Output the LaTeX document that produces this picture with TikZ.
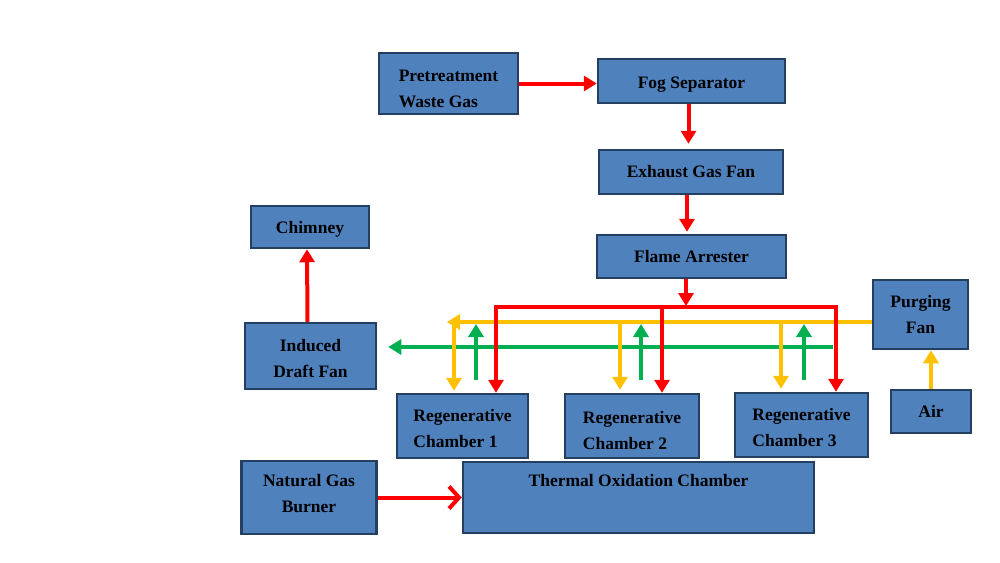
\documentclass[tikz,border=0pt]{standalone}
\usepackage{fontspec}
\setmainfont{Liberation Serif}
\usetikzlibrary{arrows.meta,calc}
\definecolor{boxfill}{HTML}{4F81BD}
\definecolor{boxline}{HTML}{243F60}
\definecolor{flowred}{HTML}{FF0000}
\definecolor{flowyel}{HTML}{FFC000}
\definecolor{flowgrn}{HTML}{00B050}
\tikzset{
  box/.style={draw=boxline, fill=boxfill, line width=2.5pt, inner sep=2pt,
    font=\fontsize{17.5}{26}\selectfont\bfseries, text=black},
  two/.style={text depth=3pt, text height=#1},
  redflow/.style={draw=flowred, line width=4pt},
  yelflow/.style={draw=flowyel, line width=4pt},
  grnflow/.style={draw=flowgrn, line width=4.5pt},
  tipr/.style={-{Triangle[length=13pt,width=15pt]}},
  barb/.style={-{Straight Barb[length=10pt,width=22pt]}},
}
\begin{document}
\begin{tikzpicture}[x=1pt,y=-1pt]
\useasboundingbox[fill=white] (0,0) rectangle (1000,562);

% boxes
\node[box, minimum width=139, minimum height=61, align=left, two=50pt] (pre) at (448.5,83.5) {Pretreatment\\Waste Gas};
\node[box, minimum width=187, minimum height=44, text height=18pt, text depth=4pt] (fog) at (691.5,81) {Fog Separator};
\node[box, minimum width=184, minimum height=44, text height=14pt, text depth=4pt] (exh) at (691,172) {Exhaust Gas Fan};
\node[box, minimum width=189, minimum height=43] (fla) at (691.5,256.5) {Flame Arrester};
\node[box, minimum width=118, minimum height=42, text height=16pt, text depth=4pt] (chim) at (310,227) {Chimney};
\node[box, minimum width=131, minimum height=66, align=center, two=45pt] (idf) at (310.5,356) {Induced\\Draft Fan};
\node[box, minimum width=95, minimum height=69, align=center, two=40pt] (purge) at (920.5,314.5) {Purging\\Fan};
\node[box, minimum width=80, minimum height=43] (air) at (931,411.5) {Air};
\node[box, minimum width=131, minimum height=64, align=left, two=45pt] (rc1) at (462.5,426) {Regenerative\\Chamber 1};
\node[box, minimum width=134, minimum height=64, align=left, two=49pt] (rc2) at (632,426) {Regenerative\\Chamber 2};
\node[box, minimum width=133, minimum height=64, align=left, two=45pt] (rc3) at (801.5,425) {Regenerative\\Chamber 3};
\node[box, minimum width=351, minimum height=71, text height=16pt, text depth=39pt] (toc) at (638.5,497.5) {Thermal Oxidation Chamber};
\node[box, minimum width=135, minimum height=73, align=center, two=32pt] (burner) at (309,497.5) {Natural Gas\\Burner};

% coordinates of the manifolds
\coordinate (rT1) at (496,307);
\coordinate (rT2) at (662,307);
\coordinate (rT3) at (836,307);
\coordinate (fa) at (686,307);
\coordinate (yL) at (447,322);
\coordinate (y1) at (454,322);
\coordinate (y2) at (620,322);
\coordinate (y3) at (781,322);
\coordinate (gR) at (833,347);
\coordinate (g1) at (476,380);
\coordinate (g2) at (641,380);
\coordinate (g3) at (804,380);

% main red path
\draw[redflow, tipr] (pre.east) -- (pre.east -| fog.west);
\draw[redflow, tipr, shorten >=5pt] ([xshift=-3]fog.south) -- ([xshift=-3]fog.south |- exh.north);
\draw[redflow, tipr, shorten >=2pt] ([xshift=-4]exh.south) -- ([xshift=-4]exh.south |- fla.north);
\draw[redflow, tipr] ([xshift=-3]idf.north) -- ([xshift=-3]chim.south);
\draw[redflow, barb] (burner.east) -- (burner.east -| toc.west);

% green (exhaust to induced draft fan)
\draw[grnflow, tipr, shorten >=11pt] (gR) -- (idf.east |- gR);
\draw[grnflow, tipr, shorten >=2pt] (g1) -- (g1 |- yL);
\draw[grnflow, tipr, shorten >=2pt] (g2) -- (g2 |- yL);
\draw[grnflow, tipr, shorten >=2pt] (g3) -- (g3 |- yL);

% yellow (purging)
\draw[yelflow, tipr] (purge.west |- yL) -- (yL);
\draw[yelflow, tipr, shorten >=2pt] (y1) -- (y1 |- rc1.north);
\draw[yelflow, tipr, shorten >=3pt] (y2) -- (y2 |- rc2.north);
\draw[yelflow, tipr, shorten >=3pt] (y3) -- (y3 |- rc3.north);
\draw[yelflow, tipr] (air.north) -- (air.north |- purge.south);

% red inlet manifold
\draw[redflow, tipr, shorten >=1pt] (fla.south -| fa) -- (fa);
\draw[redflow, {Triangle[length=13pt,width=15pt]}-{Triangle[length=13pt,width=15pt]}] (rT1 |- rc1.north) -- (rT1) -- (rT3) -- (rT3 |- rc3.north);
\draw[redflow, tipr] (rT2) -- (rT2 |- rc2.north);
\end{tikzpicture}
\end{document}
